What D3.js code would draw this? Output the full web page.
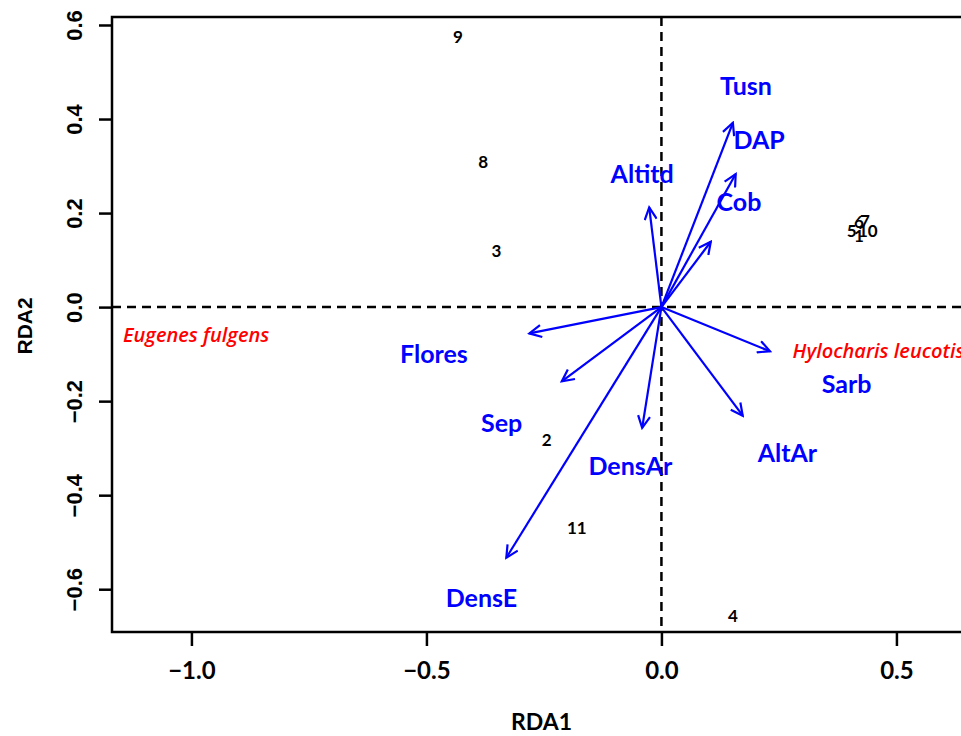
<!DOCTYPE html>
<html>
<head>
<meta charset="utf-8">
<script src="https://cdn.jsdelivr.net/npm/d3@7"></script>
<style>
  body { margin: 0; background: #fff; }
  svg { display: block; }
</style>
</head>
<body>
<div id="chart"></div>
<script>
// Site scores (RDA1, RDA2)
const siteLabels = ["1", "2", "3", "4", "5", "6", "7", "8", "9", "10", "11"];
const siteX = [0.420, -0.244, -0.351, 0.152, 0.405, 0.420, 0.433, -0.379, -0.433, 0.439, -0.180];
const siteY = [0.152, -0.283, 0.120, -0.657, 0.161, 0.180, 0.182, 0.308, 0.574, 0.161, -0.469];

// Species scores
const speciesLabels = ["Eugenes fulgens", "Hylocharis leucotis"];
const speciesX = [-0.99, 0.462];
const speciesY = [-0.060, -0.094];

// Environmental vectors (arrow tips) and where their names are printed
const envLabels = ["Tusn", "DAP", "Cob", "Altitd", "Flores", "Sep", "DensE", "DensAr", "AltAr", "Sarb"];
const envX = [0.152, 0.158, 0.105, -0.026, -0.281, -0.212, -0.330, -0.041, 0.173, 0.231];
const envY = [0.392, 0.283, 0.139, 0.212, -0.056, -0.158, -0.533, -0.257, -0.231, -0.094];
const envLabX = [0.180, 0.208, 0.165, -0.041, -0.484, -0.340, -0.383, -0.066, 0.268, 0.394];
const envLabY = [0.469, 0.355, 0.223, 0.283, -0.101, -0.246, -0.619, -0.338, -0.310, -0.165];

const xTicks = [-1.0, -0.5, 0.0, 0.5];
const yTicks = [-0.6, -0.4, -0.2, 0.0, 0.2, 0.4, 0.6];

const width = 961, height = 736;
const unit = 470; // px per unit, equal aspect
const plotLeft = 112, plotTop = 17, plotBottom = 632;
const xMin = -1.169, xMax = 0.75;
const yMax = 0.617, yMin = -0.691;

const x = d3.scaleLinear().domain([xMin, xMax]).range([plotLeft, plotLeft + (xMax - xMin) * unit]);
const y = d3.scaleLinear().domain([yMin, yMax]).range([plotBottom, plotTop]);

const svg = d3.select("#chart").append("svg")
    .attr("width", width)
    .attr("height", height);

// arrowhead marker
svg.append("defs").append("marker")
    .attr("id", "head")
    .attr("viewBox", "-13 -7 15 14")
    .attr("refX", 0).attr("refY", 0)
    .attr("markerWidth", 15).attr("markerHeight", 14)
    .attr("markerUnits", "userSpaceOnUse")
    .attr("orient", "auto")
    .append("path")
    .attr("d", "M-12,-6L0,0L-12,6")
    .attr("fill", "none")
    .attr("stroke", "#0000ff")
    .attr("stroke-width", 2.2);

// zero lines
svg.append("line")
    .attr("x1", x(xMin)).attr("x2", x(xMax))
    .attr("y1", y(0)).attr("y2", y(0))
    .attr("stroke", "#000").attr("stroke-width", 2.5)
    .attr("stroke-dasharray", "9,6");
svg.append("line")
    .attr("x1", x(0)).attr("x2", x(0))
    .attr("y1", y(yMax)).attr("y2", y(yMin))
    .attr("stroke", "#000").attr("stroke-width", 2.5)
    .attr("stroke-dasharray", "9,6");

// box
svg.append("rect")
    .attr("x", x(xMin)).attr("y", y(yMax))
    .attr("width", x(xMax) - x(xMin))
    .attr("height", y(yMin) - y(yMax))
    .attr("fill", "none")
    .attr("stroke", "#000")
    .attr("stroke-width", 2.5);

// axes
const xAxis = svg.append("g")
    .attr("transform", `translate(0,${plotBottom})`)
    .call(d3.axisBottom(x).tickValues(xTicks).tickSize(14).tickPadding(16).tickFormat(d3.format(".1f")));
const yAxis = svg.append("g")
    .attr("transform", `translate(${plotLeft},0)`)
    .call(d3.axisLeft(y).tickValues(yTicks).tickSize(13).tickPadding(6).tickFormat(d3.format(".1f")));

[xAxis, yAxis].forEach(g => {
    g.select(".domain").remove();
    g.selectAll(".tick line").attr("stroke", "#000").attr("stroke-width", 2.5);
});
xAxis.selectAll(".tick text")
    .attr("fill", "#000")
    .style("font-family", "Lato, sans-serif")
    .style("font-weight", "bold")
    .style("font-size", "24px");
yAxis.selectAll(".tick text")
    .attr("fill", "#000")
    .attr("transform", "rotate(-90)")
    .attr("x", 0)
    .attr("dy", 0)
    .attr("y", -30)
    .attr("text-anchor", "middle")
    .style("font-family", "'Liberation Sans', Arial, sans-serif")
    .style("font-weight", "bold")
    .style("font-size", "22px");

// axis titles
svg.append("text")
    .attr("x", x(0) - 120)
    .attr("y", 730)
    .attr("text-anchor", "middle")
    .style("font-family", "Lato, sans-serif")
    .style("font-weight", "bold")
    .style("font-size", "23px")
    .text("RDA1");
svg.append("text")
    .attr("transform", `translate(32,${y(-0.04)}) rotate(-90)`)
    .attr("text-anchor", "middle")
    .style("font-family", "'Liberation Sans', Arial, sans-serif")
    .style("font-weight", "bold")
    .style("font-size", "21px")
    .text("RDA2");

// site labels
svg.selectAll("text.site")
    .data(siteLabels)
    .enter()
    .append("text")
    .attr("class", "site")
    .attr("x", (d, i) => x(siteX[i]))
    .attr("y", (d, i) => y(siteY[i]))
    .attr("dy", "0.35em")
    .attr("text-anchor", "middle")
    .style("font-family", "Lato, sans-serif")
    .style("font-weight", "bold")
    .style("font-size", "17px")
    .text(d => d);

// species labels
svg.selectAll("text.species")
    .data(speciesLabels)
    .enter()
    .append("text")
    .attr("class", "species")
    .attr("x", (d, i) => x(speciesX[i]))
    .attr("y", (d, i) => y(speciesY[i]))
    .attr("dy", "0.35em")
    .attr("text-anchor", "middle")
    .attr("fill", "#ff0000")
    .style("font-family", "'Open Sans', sans-serif")
    .style("font-style", "italic")
    .style("font-weight", "600")
    .style("font-size", "20px")
    .text(d => d);

// biplot arrows
svg.selectAll("line.env")
    .data(envLabels)
    .enter()
    .append("line")
    .attr("class", "env")
    .attr("x1", x(0)).attr("y1", y(0))
    .attr("x2", (d, i) => x(envX[i]))
    .attr("y2", (d, i) => y(envY[i]))
    .attr("stroke", "#0000ff")
    .attr("stroke-width", 2.2)
    .attr("marker-end", "url(#head)");

svg.selectAll("text.env")
    .data(envLabels)
    .enter()
    .append("text")
    .attr("class", "env")
    .attr("x", (d, i) => x(envLabX[i]))
    .attr("y", (d, i) => y(envLabY[i]))
    .attr("dy", "0.35em")
    .attr("text-anchor", "middle")
    .attr("fill", "#0000ff")
    .style("font-family", "Lato, sans-serif")
    .style("font-weight", "bold")
    .style("font-size", "25px")
    .text(d => d);
</script>
</body>
</html>
